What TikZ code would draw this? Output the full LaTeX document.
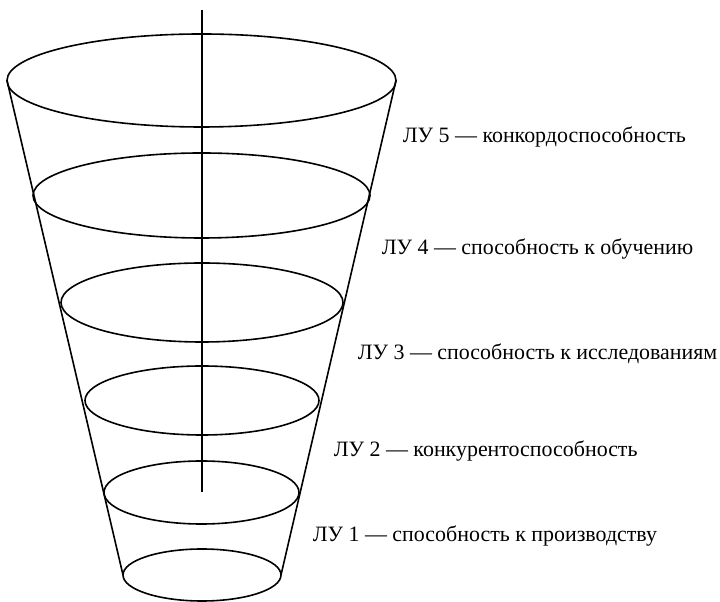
\documentclass[tikz,border=0pt]{standalone}
\usepackage{fontspec}
\setmainfont{Liberation Serif}
\usepackage{tikz}

\begin{document}
\begin{tikzpicture}[x=1bp, y=1bp, line width=1.6bp,
    levelLabel/.style={anchor=base west, inner sep=0pt,
                       font=\fontsize{22}{26}\selectfont}]
  \useasboundingbox (0,0) rectangle (720,602);

  % ── Ellipses (cx, cy, rx, ry) ──
  \foreach \cx/\cy/\rx/\ry in {201.5/521.5/194.5/46.5, 201.5/406.5/168.5/42.5,
                               202/299.5/141/39.5, 202/201.5/117/34.5,
                               201.5/109.5/97.5/31.5, 202/27/79/26} {
    \draw (\cx,\cy) ellipse [x radius=\rx, y radius=\ry];
  }

  % ── Bords du cône ──
  \draw (7,521.5) -- (123,27);
  \draw (396,521.5) -- (281,27);

  % ── Axe ──
  \draw (202,592) -- (202,110);

  % ── Libellés des niveaux ──
  \node[levelLabel] (lu5) at (402,459) {ЛУ 5 — конкордоспособность};
  \node[levelLabel] (lu4) at (381,347) {ЛУ 4 — способность к обучению};
  \node[levelLabel] (lu3) at (357,242) {ЛУ 3 — способность к исследованиям};
  \node[levelLabel] (lu2) at (333,145) {ЛУ 2 — конкурентоспособность};
  \node[levelLabel] (lu1) at (312,60)  {ЛУ 1 — способность к производству};

\end{tikzpicture}
\end{document}
